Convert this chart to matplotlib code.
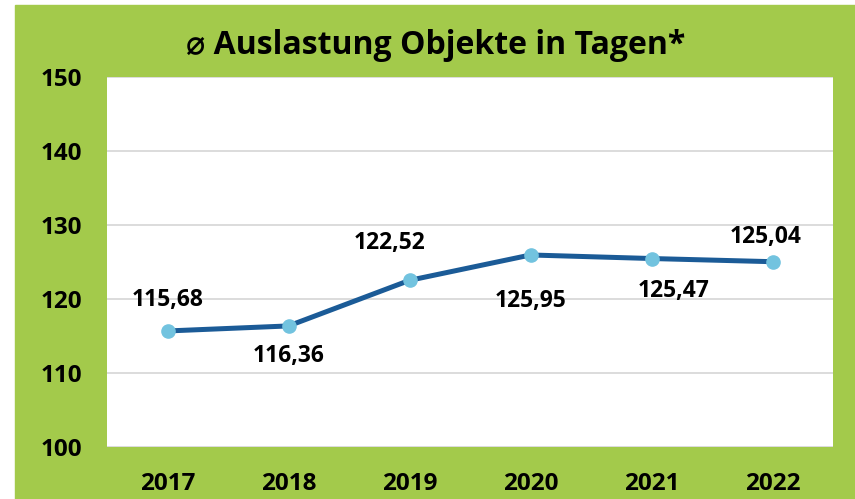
import matplotlib.pyplot as plt
from matplotlib.patches import Rectangle

years = ["2017", "2018", "2019", "2020", "2021", "2022"]
days = [115.68, 116.36, 122.52, 125.95, 125.47, 125.04]
y_ticks = [100, 110, 120, 130, 140, 150]
title = "\u2300 Auslastung Objekte in Tagen*"

# label placement (pixels from each point), copied from the original layout
label_offsets = [(0, 31), (0, -30), (-20, 37), (0, -46), (22, -32), (-7, 25)]

green = "#A3CA4B"
line_blue = "#1B5B97"
dot_blue = "#72C3DF"
font = ["Open Sans", "DejaVu Sans"]

plt.rcParams["font.family"] = font

fig = plt.figure(figsize=(8.55, 4.99), dpi=100)
fig.patches.append(Rectangle((15 / 855, 0), 1 - 15 / 855, 1 - 5 / 499,
                             transform=fig.transFigure, color=green, zorder=-10))

ax = fig.add_axes([107 / 855, 1 - 447 / 499, 726 / 855, 370 / 499])
ax.set_facecolor("white")

x = list(range(len(years)))
ax.plot(x, days, color=line_blue, linewidth=3.6, zorder=3,
        marker="o", markersize=9.5, markerfacecolor=dot_blue,
        markeredgecolor=dot_blue)

for i, v in enumerate(days):
    dx, dy = label_offsets[i]
    ax.annotate(f"{v:.2f}".replace(".", ","), (x[i], v),
                xytext=(dx, dy), textcoords="offset pixels",
                ha="center", va="center", fontsize=16.5,
                fontweight="bold", color="black")

ax.set_xlim(-0.5, len(years) - 0.5)
ax.set_ylim(100, 150)
ax.set_yticks(y_ticks)
ax.set_xticks(x)
ax.set_xticklabels(years)
ax.grid(axis="y", color="#D9D9D9", linewidth=1.3)
ax.set_axisbelow(True)
for s in ax.spines.values():
    s.set_visible(False)
ax.tick_params(length=0, labelsize=17.5, pad=18)
for lbl in ax.get_xticklabels() + ax.get_yticklabels():
    lbl.set_fontweight("bold")

fig.text(0.51, 1 - 45 / 499, title, ha="center", va="center",
         fontsize=23, fontweight="bold", color="black")

fig.savefig("out.png", dpi=100)
